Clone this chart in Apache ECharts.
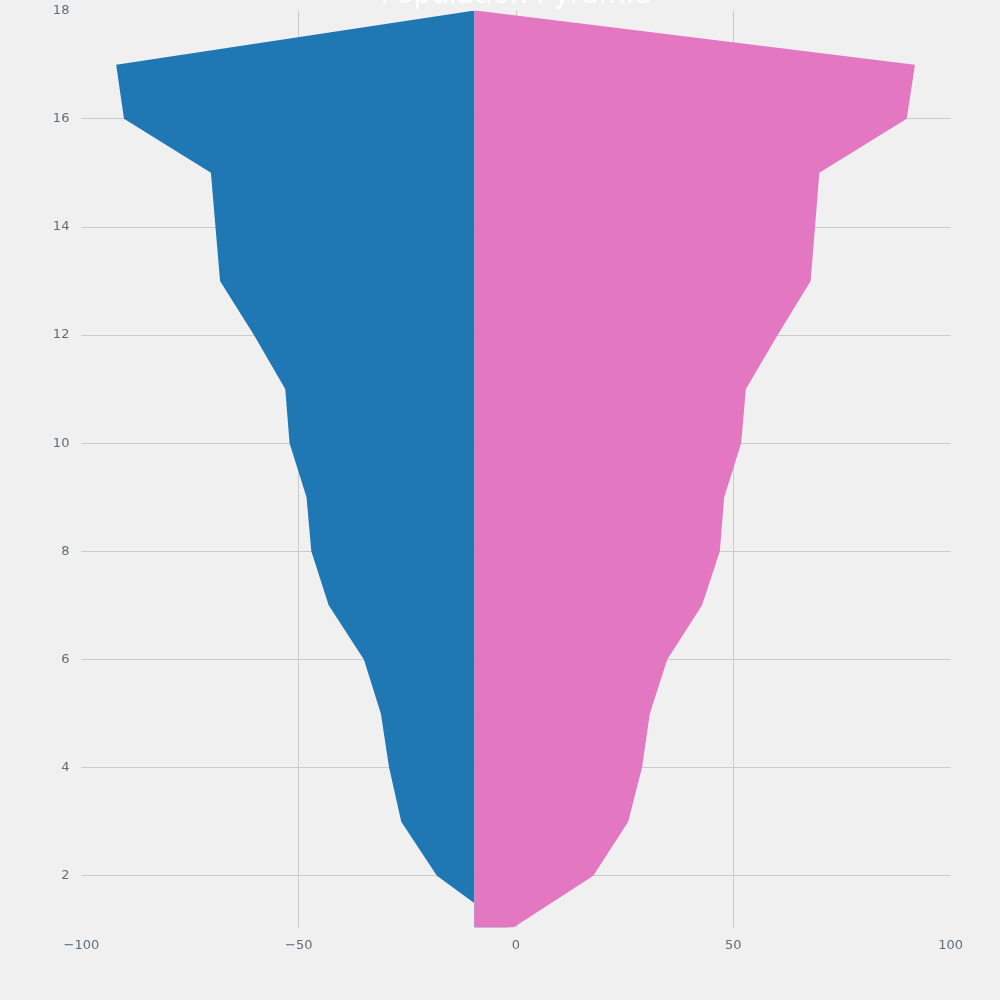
<!DOCTYPE html>
<html>
<head>
<meta charset="utf-8">
<script src="https://cdn.jsdelivr.net/npm/echarts@6/dist/echarts.min.js"></script>
<style>
html, body { margin: 0; padding: 0; background: #f0f0f0; }
#chart { width: 1000px; height: 1000px; }
</style>
</head>
<body>
<div id="chart"></div>
<script>
// ---- data ----
const ages = [1, 2, 3, 4, 5, 6, 7, 8, 9, 10, 11, 12, 13, 14, 15, 16, 17, 18];
const maleEdge = [-1.2, -18.2, -26.4, -29.2, -31.1, -35.0, -43.1, -47.1, -48.2, -52.1, -53.1, -60.3, -68.1, -69.15, -70.2, -90.2, -92.0, -9.5];
const femaleEdge = [-1.4, 17.8, 25.8, 29.0, 30.8, 34.8, 42.8, 46.9, 47.9, 51.8, 52.9, 60.2, 67.8, 68.8, 69.8, 89.9, 91.8, -9.3];
const maleBase = -9.55;
const femaleBase = -9.55;
const xTickValues = [-100, -50, 0, 50, 100];
const xGridValues = [-50, 0, 50];
const yTickValues = [2, 4, 6, 8, 10, 12, 14, 16, 18];
const yGridValues = [2, 4, 6, 8, 10, 12, 14, 16];
const titleText = 'Population Pyramid';

const labelColor = '#5f6d78';
const gridColor = '#cbcbcb';

function fmt(v) {
  return v < 0 ? '\u2212' + Math.abs(v) : String(v);
}

function areaSeries(name, edge, base, color) {
  return {
    type: 'custom',
    name: name,
    coordinateSystem: 'cartesian2d',
    clip: true,
    silent: true,
    encode: { x: 0, y: 1 },
    data: ages.map(function (a, i) { return [edge[i], a]; }),
    renderItem: function (params, api) {
      if (params.dataIndex !== 0) return null;
      const pts = [];
      for (let i = 0; i < ages.length; i++) pts.push(api.coord([edge[i], ages[i]]));
      for (let i = ages.length - 1; i >= 0; i--) pts.push(api.coord([base, ages[i]]));
      return {
        type: 'polygon',
        shape: { points: pts },
        style: { fill: color, stroke: null }
      };
    }
  };
}

const chart = echarts.init(document.getElementById('chart'), null, { renderer: 'canvas' });
chart.setOption({
  backgroundColor: '#f0f0f0',
  animation: false,
  graphic: [{
    type: 'text',
    x: 516,
    y: -4,
    z: 100,
    style: {
      text: titleText,
      fill: '#ffffff',
      font: '28px "DejaVu Sans"',
      align: 'center',
      verticalAlign: 'middle'
    }
  }],
  grid: { left: 81.4, right: 49.4, top: 10.6, bottom: 72.7, containLabel: false },
  xAxis: {
    type: 'value',
    min: -100,
    max: 100,
    interval: 50,
    axisLine: { show: false },
    axisTick: { show: false, customValues: xGridValues },
    axisLabel: {
      customValues: xTickValues,
      color: labelColor,
      fontFamily: 'DejaVu Sans',
      fontSize: 13,
      margin: 12,
      formatter: fmt
    },
    splitLine: { show: true, lineStyle: { color: gridColor, width: 1 } }
  },
  yAxis: {
    type: 'value',
    min: 1.046,
    max: 18,
    axisLine: { show: false },
    axisTick: { show: false, customValues: yGridValues },
    axisLabel: {
      customValues: yTickValues,
      color: labelColor,
      fontFamily: 'DejaVu Sans',
      fontSize: 13,
      margin: 12,
      formatter: fmt
    },
    splitLine: { show: true, lineStyle: { color: gridColor, width: 1 } }
  },
  series: [
    areaSeries('Male', maleEdge, maleBase, '#1f77b4'),
    areaSeries('Female', femaleEdge, femaleBase, '#e377c2')
  ]
});
</script>
</body>
</html>
